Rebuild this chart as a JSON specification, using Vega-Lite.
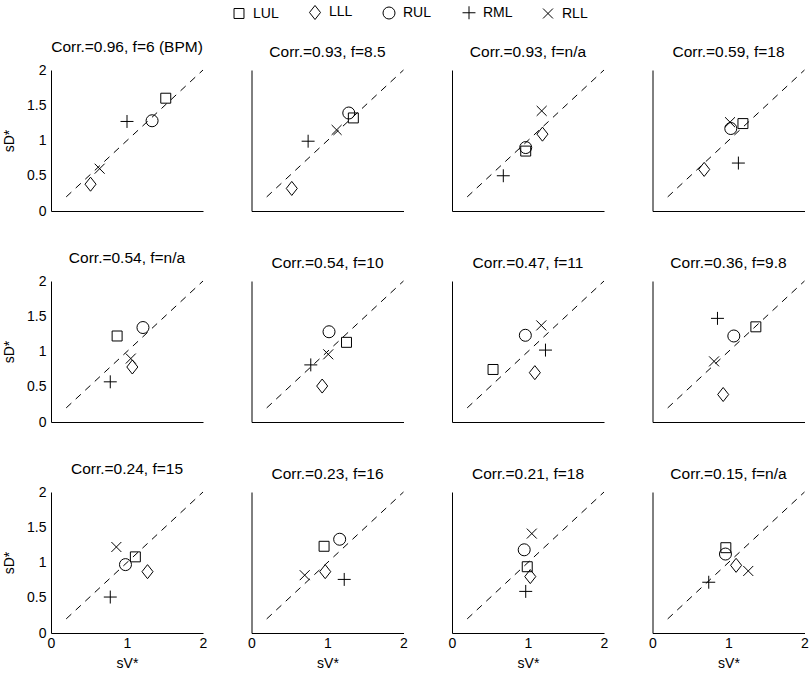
{
  "$schema": "https://vega.github.io/schema/vega-lite/v6.json",
  "background": "white",
  "padding": {"left": 2, "top": 5, "right": 2, "bottom": 5},
  "datasets": {
    "diag": [{"sV": 0.2, "sD": 0.2}, {"sV": 2, "sD": 2}],
    "pts": [
      {"p": 1, "seg": "LUL", "sV": 1.51, "sD": 1.60},
      {"p": 1, "seg": "LLL", "sV": 0.52, "sD": 0.38},
      {"p": 1, "seg": "RUL", "sV": 1.33, "sD": 1.28},
      {"p": 1, "seg": "RML", "sV": 1.00, "sD": 1.27},
      {"p": 1, "seg": "RLL", "sV": 0.64, "sD": 0.60},
      {"p": 2, "seg": "RUL", "sV": 1.28, "sD": 1.39},
      {"p": 2, "seg": "LUL", "sV": 1.34, "sD": 1.32},
      {"p": 2, "seg": "RLL", "sV": 1.12, "sD": 1.15},
      {"p": 2, "seg": "RML", "sV": 0.745, "sD": 0.99},
      {"p": 2, "seg": "LLL", "sV": 0.53, "sD": 0.32},
      {"p": 3, "seg": "RLL", "sV": 1.18, "sD": 1.42},
      {"p": 3, "seg": "LLL", "sV": 1.19, "sD": 1.09},
      {"p": 3, "seg": "RUL", "sV": 0.97, "sD": 0.90},
      {"p": 3, "seg": "LUL", "sV": 0.97, "sD": 0.85},
      {"p": 3, "seg": "RML", "sV": 0.675, "sD": 0.50},
      {"p": 4, "seg": "RLL", "sV": 1.02, "sD": 1.26},
      {"p": 4, "seg": "RUL", "sV": 1.03, "sD": 1.17},
      {"p": 4, "seg": "LUL", "sV": 1.19, "sD": 1.24},
      {"p": 4, "seg": "RML", "sV": 1.13, "sD": 0.68},
      {"p": 4, "seg": "LLL", "sV": 0.68, "sD": 0.59},
      {"p": 5, "seg": "LUL", "sV": 0.87, "sD": 1.22},
      {"p": 5, "seg": "RUL", "sV": 1.21, "sD": 1.34},
      {"p": 5, "seg": "RLL", "sV": 1.05, "sD": 0.90},
      {"p": 5, "seg": "LLL", "sV": 1.07, "sD": 0.78},
      {"p": 5, "seg": "RML", "sV": 0.78, "sD": 0.57},
      {"p": 6, "seg": "RUL", "sV": 1.02, "sD": 1.28},
      {"p": 6, "seg": "LUL", "sV": 1.25, "sD": 1.13},
      {"p": 6, "seg": "RLL", "sV": 1.01, "sD": 0.96},
      {"p": 6, "seg": "RML", "sV": 0.78, "sD": 0.81},
      {"p": 6, "seg": "LLL", "sV": 0.93, "sD": 0.51},
      {"p": 7, "seg": "RLL", "sV": 1.175, "sD": 1.37},
      {"p": 7, "seg": "RUL", "sV": 0.965, "sD": 1.23},
      {"p": 7, "seg": "RML", "sV": 1.23, "sD": 1.02},
      {"p": 7, "seg": "LUL", "sV": 0.54, "sD": 0.745},
      {"p": 7, "seg": "LLL", "sV": 1.09, "sD": 0.70},
      {"p": 8, "seg": "RML", "sV": 0.855, "sD": 1.47},
      {"p": 8, "seg": "LUL", "sV": 1.36, "sD": 1.35},
      {"p": 8, "seg": "RUL", "sV": 1.07, "sD": 1.22},
      {"p": 8, "seg": "RLL", "sV": 0.81, "sD": 0.86},
      {"p": 8, "seg": "LLL", "sV": 0.93, "sD": 0.39},
      {"p": 9, "seg": "RLL", "sV": 0.86, "sD": 1.22},
      {"p": 9, "seg": "LUL", "sV": 1.11, "sD": 1.08},
      {"p": 9, "seg": "RUL", "sV": 0.98, "sD": 0.97},
      {"p": 9, "seg": "LLL", "sV": 1.27, "sD": 0.87},
      {"p": 9, "seg": "RML", "sV": 0.78, "sD": 0.51},
      {"p": 10, "seg": "RUL", "sV": 1.16, "sD": 1.33},
      {"p": 10, "seg": "LUL", "sV": 0.955, "sD": 1.23},
      {"p": 10, "seg": "LLL", "sV": 0.97, "sD": 0.87},
      {"p": 10, "seg": "RLL", "sV": 0.70, "sD": 0.82},
      {"p": 10, "seg": "RML", "sV": 1.22, "sD": 0.76},
      {"p": 11, "seg": "RLL", "sV": 1.05, "sD": 1.41},
      {"p": 11, "seg": "RUL", "sV": 0.95, "sD": 1.18},
      {"p": 11, "seg": "LUL", "sV": 0.99, "sD": 0.94},
      {"p": 11, "seg": "LLL", "sV": 1.03, "sD": 0.80},
      {"p": 11, "seg": "RML", "sV": 0.97, "sD": 0.59},
      {"p": 12, "seg": "LUL", "sV": 0.965, "sD": 1.21},
      {"p": 12, "seg": "RUL", "sV": 0.96, "sD": 1.12},
      {"p": 12, "seg": "LLL", "sV": 1.10, "sD": 0.96},
      {"p": 12, "seg": "RLL", "sV": 1.26, "sD": 0.88},
      {"p": 12, "seg": "RML", "sV": 0.74, "sD": 0.72}
    ]
  },
  "columns": 4,
  "spacing": {"row": 70, "column": 48.5},
  "bounds": "flush",
  "concat": [
    {"title": "Corr.=0.96, f=6 (BPM)", "width": 152, "height": 141,
     "encoding": {"x": {"field": "sV", "type": "quantitative", "scale": {"domain": [0, 2], "nice": false}, "axis": {"values": [0, 1, 2], "labels": false, "title": null}},
                  "y": {"field": "sD", "type": "quantitative", "scale": {"domain": [0, 2], "nice": false}, "axis": {"values": [0, 0.5, 1, 1.5, 2], "format": "~g", "title": "sD*"}}},
     "layer": [
      {"data": {"name": "diag"}, "mark": {"type": "line", "color": "black", "strokeWidth": 1, "strokeDash": [7, 6]}, "encoding": {}},
      {"data": {"name": "pts"}, "transform": [{"filter": "datum.p == 1"}], "mark": {"type": "point", "filled": false, "color": "black", "strokeWidth": 1, "size": 144, "opacity": 1},
       "encoding": {"shape": {"field": "seg", "type": "nominal", "title": null,
                              "scale": {"domain": ["LUL", "LLL", "RUL", "RML", "RLL"], "range": ["M-0.83,-0.83H0.83V0.83H-0.83Z", "M0,-1.17L0.92,0L0,1.17L-0.92,0Z", "circle", "M-1.08,0H1.08M0,-1.08V1.08", "M-0.83,-0.83L0.83,0.83M-0.83,0.83L0.83,-0.83"]},
                              "legend": {"orient": "none", "legendX": 181, "legendY": -65, "direction": "horizontal", "columns": 5, "columnPadding": 28, "symbolSize": 144, "labelOffset": 7}}}}
    ]},
    {"title": "Corr.=0.93, f=8.5", "width": 152, "height": 141,
     "encoding": {"x": {"field": "sV", "type": "quantitative", "scale": {"domain": [0, 2], "nice": false}, "axis": {"values": [0, 1, 2], "labels": false, "title": null}},
                  "y": {"field": "sD", "type": "quantitative", "scale": {"domain": [0, 2], "nice": false}, "axis": {"values": [0, 0.5, 1, 1.5, 2], "labels": false, "title": null}}},
     "layer": [
      {"data": {"name": "diag"}, "mark": {"type": "line", "color": "black", "strokeWidth": 1, "strokeDash": [7, 6]}, "encoding": {}},
      {"data": {"name": "pts"}, "transform": [{"filter": "datum.p == 2"}], "mark": {"type": "point", "filled": false, "color": "black", "strokeWidth": 1, "size": 144, "opacity": 1},
       "encoding": {"shape": {"field": "seg", "type": "nominal", "title": null}}}
    ]},
    {"title": "Corr.=0.93, f=n/a", "width": 152, "height": 141,
     "encoding": {"x": {"field": "sV", "type": "quantitative", "scale": {"domain": [0, 2], "nice": false}, "axis": {"values": [0, 1, 2], "labels": false, "title": null}},
                  "y": {"field": "sD", "type": "quantitative", "scale": {"domain": [0, 2], "nice": false}, "axis": {"values": [0, 0.5, 1, 1.5, 2], "labels": false, "title": null}}},
     "layer": [
      {"data": {"name": "diag"}, "mark": {"type": "line", "color": "black", "strokeWidth": 1, "strokeDash": [7, 6]}, "encoding": {}},
      {"data": {"name": "pts"}, "transform": [{"filter": "datum.p == 3"}], "mark": {"type": "point", "filled": false, "color": "black", "strokeWidth": 1, "size": 144, "opacity": 1},
       "encoding": {"shape": {"field": "seg", "type": "nominal", "title": null}}}
    ]},
    {"title": "Corr.=0.59, f=18", "width": 152, "height": 141,
     "encoding": {"x": {"field": "sV", "type": "quantitative", "scale": {"domain": [0, 2], "nice": false}, "axis": {"values": [0, 1, 2], "labels": false, "title": null}},
                  "y": {"field": "sD", "type": "quantitative", "scale": {"domain": [0, 2], "nice": false}, "axis": {"values": [0, 0.5, 1, 1.5, 2], "labels": false, "title": null}}},
     "layer": [
      {"data": {"name": "diag"}, "mark": {"type": "line", "color": "black", "strokeWidth": 1, "strokeDash": [7, 6]}, "encoding": {}},
      {"data": {"name": "pts"}, "transform": [{"filter": "datum.p == 4"}], "mark": {"type": "point", "filled": false, "color": "black", "strokeWidth": 1, "size": 144, "opacity": 1},
       "encoding": {"shape": {"field": "seg", "type": "nominal", "title": null}}}
    ]},
    {"title": "Corr.=0.54, f=n/a", "width": 152, "height": 141,
     "encoding": {"x": {"field": "sV", "type": "quantitative", "scale": {"domain": [0, 2], "nice": false}, "axis": {"values": [0, 1, 2], "labels": false, "title": null}},
                  "y": {"field": "sD", "type": "quantitative", "scale": {"domain": [0, 2], "nice": false}, "axis": {"values": [0, 0.5, 1, 1.5, 2], "format": "~g", "title": "sD*"}}},
     "layer": [
      {"data": {"name": "diag"}, "mark": {"type": "line", "color": "black", "strokeWidth": 1, "strokeDash": [7, 6]}, "encoding": {}},
      {"data": {"name": "pts"}, "transform": [{"filter": "datum.p == 5"}], "mark": {"type": "point", "filled": false, "color": "black", "strokeWidth": 1, "size": 144, "opacity": 1},
       "encoding": {"shape": {"field": "seg", "type": "nominal", "title": null}}}
    ]},
    {"title": "Corr.=0.54, f=10", "width": 152, "height": 141,
     "encoding": {"x": {"field": "sV", "type": "quantitative", "scale": {"domain": [0, 2], "nice": false}, "axis": {"values": [0, 1, 2], "labels": false, "title": null}},
                  "y": {"field": "sD", "type": "quantitative", "scale": {"domain": [0, 2], "nice": false}, "axis": {"values": [0, 0.5, 1, 1.5, 2], "labels": false, "title": null}}},
     "layer": [
      {"data": {"name": "diag"}, "mark": {"type": "line", "color": "black", "strokeWidth": 1, "strokeDash": [7, 6]}, "encoding": {}},
      {"data": {"name": "pts"}, "transform": [{"filter": "datum.p == 6"}], "mark": {"type": "point", "filled": false, "color": "black", "strokeWidth": 1, "size": 144, "opacity": 1},
       "encoding": {"shape": {"field": "seg", "type": "nominal", "title": null}}}
    ]},
    {"title": "Corr.=0.47, f=11", "width": 152, "height": 141,
     "encoding": {"x": {"field": "sV", "type": "quantitative", "scale": {"domain": [0, 2], "nice": false}, "axis": {"values": [0, 1, 2], "labels": false, "title": null}},
                  "y": {"field": "sD", "type": "quantitative", "scale": {"domain": [0, 2], "nice": false}, "axis": {"values": [0, 0.5, 1, 1.5, 2], "labels": false, "title": null}}},
     "layer": [
      {"data": {"name": "diag"}, "mark": {"type": "line", "color": "black", "strokeWidth": 1, "strokeDash": [7, 6]}, "encoding": {}},
      {"data": {"name": "pts"}, "transform": [{"filter": "datum.p == 7"}], "mark": {"type": "point", "filled": false, "color": "black", "strokeWidth": 1, "size": 144, "opacity": 1},
       "encoding": {"shape": {"field": "seg", "type": "nominal", "title": null}}}
    ]},
    {"title": "Corr.=0.36, f=9.8", "width": 152, "height": 141,
     "encoding": {"x": {"field": "sV", "type": "quantitative", "scale": {"domain": [0, 2], "nice": false}, "axis": {"values": [0, 1, 2], "labels": false, "title": null}},
                  "y": {"field": "sD", "type": "quantitative", "scale": {"domain": [0, 2], "nice": false}, "axis": {"values": [0, 0.5, 1, 1.5, 2], "labels": false, "title": null}}},
     "layer": [
      {"data": {"name": "diag"}, "mark": {"type": "line", "color": "black", "strokeWidth": 1, "strokeDash": [7, 6]}, "encoding": {}},
      {"data": {"name": "pts"}, "transform": [{"filter": "datum.p == 8"}], "mark": {"type": "point", "filled": false, "color": "black", "strokeWidth": 1, "size": 144, "opacity": 1},
       "encoding": {"shape": {"field": "seg", "type": "nominal", "title": null}}}
    ]},
    {"title": "Corr.=0.24, f=15", "width": 152, "height": 141,
     "encoding": {"x": {"field": "sV", "type": "quantitative", "scale": {"domain": [0, 2], "nice": false}, "axis": {"values": [0, 1, 2], "format": "~g", "title": "sV*"}},
                  "y": {"field": "sD", "type": "quantitative", "scale": {"domain": [0, 2], "nice": false}, "axis": {"values": [0, 0.5, 1, 1.5, 2], "format": "~g", "title": "sD*"}}},
     "layer": [
      {"data": {"name": "diag"}, "mark": {"type": "line", "color": "black", "strokeWidth": 1, "strokeDash": [7, 6]}, "encoding": {}},
      {"data": {"name": "pts"}, "transform": [{"filter": "datum.p == 9"}], "mark": {"type": "point", "filled": false, "color": "black", "strokeWidth": 1, "size": 144, "opacity": 1},
       "encoding": {"shape": {"field": "seg", "type": "nominal", "title": null}}}
    ]},
    {"title": "Corr.=0.23, f=16", "width": 152, "height": 141,
     "encoding": {"x": {"field": "sV", "type": "quantitative", "scale": {"domain": [0, 2], "nice": false}, "axis": {"values": [0, 1, 2], "format": "~g", "title": "sV*"}},
                  "y": {"field": "sD", "type": "quantitative", "scale": {"domain": [0, 2], "nice": false}, "axis": {"values": [0, 0.5, 1, 1.5, 2], "labels": false, "title": null}}},
     "layer": [
      {"data": {"name": "diag"}, "mark": {"type": "line", "color": "black", "strokeWidth": 1, "strokeDash": [7, 6]}, "encoding": {}},
      {"data": {"name": "pts"}, "transform": [{"filter": "datum.p == 10"}], "mark": {"type": "point", "filled": false, "color": "black", "strokeWidth": 1, "size": 144, "opacity": 1},
       "encoding": {"shape": {"field": "seg", "type": "nominal", "title": null}}}
    ]},
    {"title": "Corr.=0.21, f=18", "width": 152, "height": 141,
     "encoding": {"x": {"field": "sV", "type": "quantitative", "scale": {"domain": [0, 2], "nice": false}, "axis": {"values": [0, 1, 2], "format": "~g", "title": "sV*"}},
                  "y": {"field": "sD", "type": "quantitative", "scale": {"domain": [0, 2], "nice": false}, "axis": {"values": [0, 0.5, 1, 1.5, 2], "labels": false, "title": null}}},
     "layer": [
      {"data": {"name": "diag"}, "mark": {"type": "line", "color": "black", "strokeWidth": 1, "strokeDash": [7, 6]}, "encoding": {}},
      {"data": {"name": "pts"}, "transform": [{"filter": "datum.p == 11"}], "mark": {"type": "point", "filled": false, "color": "black", "strokeWidth": 1, "size": 144, "opacity": 1},
       "encoding": {"shape": {"field": "seg", "type": "nominal", "title": null}}}
    ]},
    {"title": "Corr.=0.15, f=n/a", "width": 152, "height": 141,
     "encoding": {"x": {"field": "sV", "type": "quantitative", "scale": {"domain": [0, 2], "nice": false}, "axis": {"values": [0, 1, 2], "format": "~g", "title": "sV*"}},
                  "y": {"field": "sD", "type": "quantitative", "scale": {"domain": [0, 2], "nice": false}, "axis": {"values": [0, 0.5, 1, 1.5, 2], "labels": false, "title": null}}},
     "layer": [
      {"data": {"name": "diag"}, "mark": {"type": "line", "color": "black", "strokeWidth": 1, "strokeDash": [7, 6]}, "encoding": {}},
      {"data": {"name": "pts"}, "transform": [{"filter": "datum.p == 12"}], "mark": {"type": "point", "filled": false, "color": "black", "strokeWidth": 1, "size": 144, "opacity": 1},
       "encoding": {"shape": {"field": "seg", "type": "nominal", "title": null}}}
    ]}
  ],
  "config": {
    "view": {"stroke": null},
    "font": "Liberation Sans",
    "axis": {"grid": false, "ticks": false, "domainColor": "black", "domainWidth": 1, "labelColor": "black", "labelFont": "Liberation Sans", "labelFontSize": 14, "labelFlush": false, "labelOverlap": false, "titleFont": "Liberation Sans", "titleFontSize": 14, "titleFontWeight": "normal", "titleColor": "black"},
    "axisY": {"labelPadding": 5, "titlePadding": 10},
    "axisX": {"labelPadding": 3, "titlePadding": 6},
    "title": {"font": "Liberation Sans", "fontSize": 15.5, "fontWeight": "normal", "color": "black", "offset": 8},
    "legend": {"labelFont": "Liberation Sans", "labelFontSize": 14, "labelColor": "black", "symbolStrokeColor": "black", "symbolStrokeWidth": 1, "symbolFillColor": "transparent"}
  }
}
